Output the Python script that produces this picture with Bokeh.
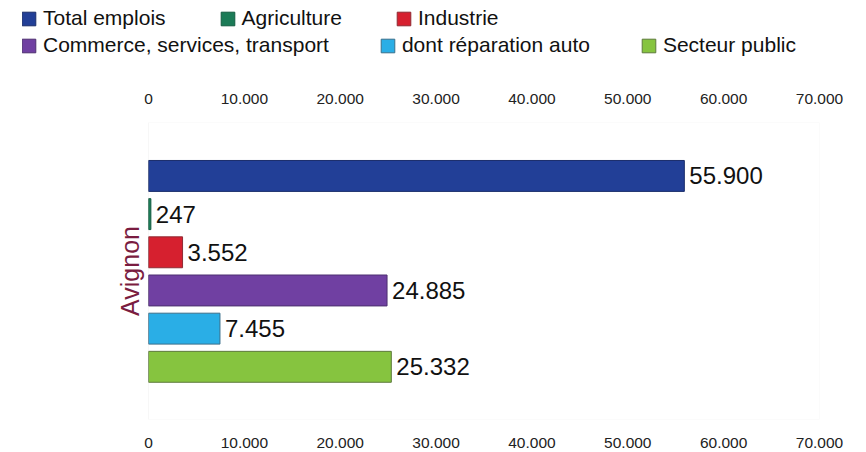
import math
from bokeh.plotting import figure
from bokeh.models import (ColumnDataSource, Range1d, LinearAxis, FixedTicker,
                          CustomJSTickFormatter, Legend, LegendItem,
                          BoxAnnotation, Label)
from bokeh.layouts import column
from bokeh.embed import file_html
from bokeh.resources import INLINE
from bokeh.core.properties import value

# ---- data ----
categories = ["Total emplois", "Agriculture", "Industrie",
              "Commerce, services, transport", "dont réparation auto", "Secteur public"]
values = [55900, 247, 3552, 24885, 7455, 25332]
colors = ["#223f97", "#1b7b57", "#d6202f", "#7040a2", "#2aaee6", "#86c43f"]
edge_colors = ["#1a2d6a", "#135c40", "#8f2a33", "#4d2f70", "#3a6f8a", "#5e7a3c"]
city = "Avignon"
x_ticks = [0, 10000, 20000, 30000, 40000, 50000, 60000, 70000]

FONT = "Liberation Sans"

def fmt(v):
    return f"{v:,}".replace(",", ".")

src = ColumnDataSource(dict(
    y=list(range(len(categories))),
    val=values,
    cat=categories,
    color=colors,
    edge=edge_colors,
    label=[fmt(v) for v in values],
))

# layout geometry (pixels)
W = 850
FRAME_LEFT = 22          # frame starts under the legend
ZERO_PX = 148            # where the value 0 sits
RIGHT_PX = 819
LH = 70                  # legend strip height
xmax = x_ticks[-1]
x_start = -(ZERO_PX - FRAME_LEFT) / (RIGHT_PX - ZERO_PX) * xmax
y_top, y_bottom = -1.4, 6.38

# ---------------- main chart ----------------
p = figure(width=W, height=380, output_backend="svg", toolbar_location=None,
           x_range=Range1d(x_start, xmax), y_range=Range1d(y_bottom, y_top),
           x_axis_location="below", y_axis_location=None,
           min_border_left=FRAME_LEFT, min_border_right=W - RIGHT_PX,
           min_border_top=52, min_border_bottom=31)
p.xgrid.visible = False
p.ygrid.visible = False
p.outline_line_color = None

p.add_layout(BoxAnnotation(left=x_ticks[0], right=xmax, fill_alpha=0,
                           line_color="#e6e6e6", line_width=1))

bars = p.hbar(y="y", left=0, right="val", height=0.81, source=src,
              fill_color="color", line_color="edge", line_width=1)

p.text(x="val", y="y", text="label", source=src, x_offset=5,
       text_baseline="middle", text_align="left",
       text_font=value(FONT), text_font_size="24px", text_color="#111111")

formatter = CustomJSTickFormatter(code="""
    return Math.round(tick).toString().replace(/\\B(?=(\\d{3})+(?!\\d))/g, '.');
""")

def style_x(ax, standoff):
    ax.ticker = FixedTicker(ticks=x_ticks)
    ax.formatter = formatter
    ax.axis_line_color = None
    ax.major_tick_line_color = None
    ax.minor_tick_line_color = None
    ax.major_label_text_font = FONT
    ax.major_label_text_font_size = "15.5px"
    ax.major_label_text_color = "#222222"
    ax.major_label_standoff = standoff

style_x(p.xaxis[0], 12)
top_axis = LinearAxis()
style_x(top_axis, 13)
p.add_layout(top_axis, "above")

p.add_layout(Label(x=0, y=(y_top + y_bottom) / 2, text=city, angle=math.pi / 2,
                   x_offset=-5, text_align="center", text_baseline="bottom",
                   text_font=FONT, text_font_size="25px", text_color="#7a1c40"))

# ---------------- legend strip ----------------
lf = figure(width=W, height=LH, output_backend="svg", toolbar_location=None,
            x_range=Range1d(x_start, xmax), y_range=Range1d(y_bottom, y_top),
            x_axis_location=None, y_axis_location=None,
            min_border_left=FRAME_LEFT, min_border_right=W - RIGHT_PX,
            min_border_top=0, min_border_bottom=0)
lf.xgrid.visible = False
lf.ygrid.visible = False
lf.outline_line_color = None
lbars = lf.hbar(y="y", left=0, right="val", height=0.81, source=src,
                fill_color="color", line_color="edge", line_width=1)
lbars.visible = False   # only provides the legend swatches

ITEM_H = 26

def make_legend(idxs, spacing, loc):
    items = [LegendItem(label=categories[i], renderers=[lbars], index=i) for i in idxs]
    return Legend(items=items, location=loc, orientation="horizontal",
                  spacing=spacing, padding=0, margin=0, border_line_color=None,
                  background_fill_alpha=0, glyph_width=17, glyph_height=17,
                  label_standoff=6, label_height=ITEM_H,
                  label_text_font=FONT, label_text_font_size="21px",
                  label_text_color="#111111", inactive_fill_alpha=0)

lf.add_layout(make_legend([0, 1, 2], 53, (-2, LH - 5 - ITEM_H)), "center")
lf.add_layout(make_legend([3, 4, 5], 50, (-2, LH - 32 - ITEM_H)), "center")

layout = column(lf, p, spacing=0)
open("out.html", "w").write(file_html(layout, INLINE))
